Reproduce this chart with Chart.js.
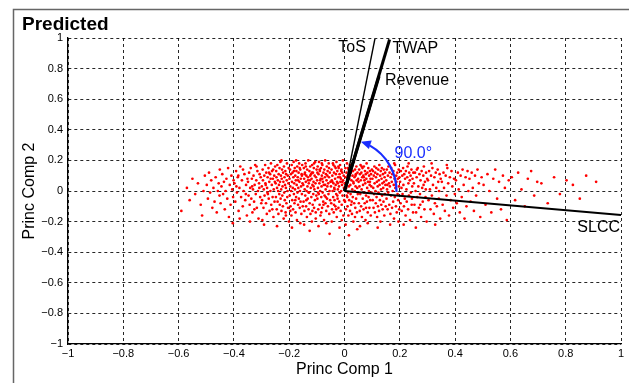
<!DOCTYPE html>
<html>
<head>
<meta charset="utf-8">
<script src="https://cdn.jsdelivr.net/npm/chart.js@4.4.1/dist/chart.umd.min.js"></script>
<style>
  html, body { margin: 0; padding: 0; background: #fff; }
  #wrap { width: 629px; height: 383px; position: relative; }
</style>
</head>
<body>
<div id="wrap"><canvas id="biplot"></canvas></div>
<script>
// Tick positions (same on both axes)
const xTicks = [-1, -0.8, -0.6, -0.4, -0.2, 0, 0.2, 0.4, 0.6, 0.8, 1];
const yTicks = [-1, -0.8, -0.6, -0.4, -0.2, 0, 0.2, 0.4, 0.6, 0.8, 1];

// Variable loadings (vectors)
const varNames = ['ToS', 'TWAP', 'Revenue', 'SLCC'];
const loadX = [0.11, 0.163, 0.125, 1.0];
const loadY = [0.995, 0.99, 0.75, -0.157];
const angleText = '90.0°';

// Scores
const scores = [
  [-0.59,-0.13],[-0.57,0.02],[-0.56,-0.06],[-0.55,0.08],[-0.54,-0.02],[-0.53,0.05],[-0.52,-0.09],[-0.51,0.0],[-0.505,0.1],[-0.515,-0.16],
  [-0.498,0.04],[-0.494,-0.05],[-0.49,0.12],[-0.486,-0.01],[-0.482,0.07],[-0.478,-0.11],[-0.474,0.02],[-0.47,-0.07],[-0.466,0.09],[-0.462,-0.14],[-0.458,0.0],[-0.455,0.05],[-0.452,-0.03],[-0.451,0.14],
  [-0.448,-0.08],[-0.445,0.03],[-0.442,0.11],[-0.439,-0.02],[-0.436,0.06],[-0.433,-0.12],[-0.43,0.0],[-0.427,0.08],[-0.424,-0.05],[-0.421,0.15],[-0.418,-0.17],[-0.415,0.04],[-0.412,-0.09],[-0.409,0.1],[-0.406,0.01],[-0.403,-0.04],[-0.401,0.07],[-0.404,-0.21],
  [-0.398,0.05],[-0.395,-0.07],[-0.392,0.13],[-0.389,-0.01],[-0.386,0.09],[-0.383,-0.13],[-0.38,0.02],[-0.377,0.16],[-0.374,-0.04],[-0.371,0.07],[-0.368,-0.1],[-0.365,0.0],[-0.362,0.11],[-0.359,-0.06],[-0.356,0.04],[-0.353,-0.16],[-0.351,0.08],[-0.367,0.14],[-0.379,-0.18],[-0.391,0.03],[-0.357,-0.02],[-0.384,0.1],
  [-0.349,0.06],[-0.347,-0.03],[-0.345,0.12],[-0.343,-0.09],[-0.341,0.02],[-0.339,0.15],[-0.337,-0.05],[-0.335,0.08],[-0.333,-0.14],[-0.331,0.01],[-0.329,0.1],[-0.327,-0.07],[-0.325,0.04],[-0.323,0.17],[-0.321,-0.02],[-0.319,0.07],[-0.317,-0.11],[-0.315,0.13],[-0.313,0.0],[-0.311,-0.18],[-0.309,0.05],[-0.307,0.11],[-0.305,-0.04],[-0.303,0.09],[-0.301,-0.08],[-0.334,0.03],[-0.318,0.16],[-0.326,-0.12],[-0.308,0.02],[-0.342,-0.2],
  [-0.299,0.03],[-0.298,-0.06],[-0.296,0.14],[-0.295,0.07],[-0.293,-0.11],[-0.292,0.01],[-0.29,0.1],[-0.289,-0.03],[-0.287,0.17],[-0.286,0.05],[-0.284,-0.08],[-0.283,0.12],[-0.281,-0.15],[-0.28,0.02],[-0.278,0.09],[-0.277,-0.02],[-0.275,0.15],[-0.274,-0.05],[-0.272,0.06],[-0.271,-0.13],[-0.269,0.11],[-0.268,0.0],[-0.266,0.18],[-0.265,-0.09],[-0.263,0.04],[-0.262,0.13],[-0.26,-0.04],[-0.259,0.08],[-0.257,-0.17],[-0.256,0.01],[-0.254,0.1],[-0.253,-0.07],[-0.251,0.16],[-0.297,-0.19],[-0.285,0.04],[-0.273,0.12],[-0.261,-0.12],[-0.252,0.06],[-0.279,-0.01],[-0.267,0.08],[-0.291,-0.22],[-0.258,0.14],
  [-0.249,0.05],[-0.248,-0.04],[-0.247,0.13],[-0.246,0.09],[-0.245,-0.12],[-0.244,0.02],[-0.243,0.17],[-0.242,-0.07],[-0.241,0.07],[-0.24,0.0],[-0.239,-0.15],[-0.238,0.11],[-0.237,0.04],[-0.236,-0.02],[-0.235,0.15],[-0.234,-0.09],[-0.233,0.06],[-0.232,0.19],[-0.231,-0.05],[-0.23,0.1],[-0.229,0.01],[-0.228,-0.13],[-0.227,0.08],[-0.226,0.14],[-0.225,-0.03],[-0.224,0.03],[-0.223,-0.1],[-0.222,0.12],[-0.221,0.06],[-0.22,-0.18],[-0.219,0.16],[-0.218,-0.01],[-0.217,0.09],[-0.216,-0.06],[-0.215,0.04],[-0.214,0.13],[-0.213,-0.14],[-0.212,0.02],[-0.211,0.11],[-0.21,-0.08],[-0.209,0.07],[-0.208,0.18],[-0.207,-0.04],[-0.206,0.0],[-0.205,0.1],[-0.204,-0.11],[-0.203,0.05],[-0.202,0.15],[-0.201,-0.2],[-0.244,-0.23],[-0.228,0.2],[-0.212,-0.16],
  [-0.199,0.08],[-0.198,-0.03],[-0.197,0.14],[-0.196,0.03],[-0.195,-0.1],[-0.194,0.11],[-0.193,0.0],[-0.192,-0.16],[-0.191,0.17],[-0.19,0.06],[-0.189,-0.06],[-0.188,0.12],[-0.187,0.02],[-0.186,-0.12],[-0.185,0.09],[-0.184,0.19],[-0.183,-0.02],[-0.182,0.05],[-0.181,-0.08],[-0.18,0.15],[-0.179,0.01],[-0.178,0.1],[-0.177,-0.14],[-0.176,0.07],[-0.175,-0.04],[-0.174,0.13],[-0.173,0.04],[-0.172,-0.19],[-0.171,0.16],[-0.17,-0.01],[-0.169,0.09],[-0.168,-0.09],[-0.167,0.02],[-0.166,0.12],[-0.165,-0.05],[-0.164,0.18],[-0.163,0.06],[-0.162,-0.11],[-0.161,0.0],[-0.16,0.14],[-0.159,-0.07],[-0.158,0.08],[-0.157,0.03],[-0.156,-0.15],[-0.155,0.11],[-0.154,-0.02],[-0.153,0.17],[-0.152,0.05],[-0.151,-0.1],[-0.19,-0.24],[-0.175,0.2],[-0.16,-0.21],[-0.183,0.13],[-0.168,0.07],[-0.196,-0.13],[-0.154,0.1],[-0.178,-0.06],[-0.162,0.15],
  [-0.149,0.04],[-0.148,-0.07],[-0.147,0.15],[-0.146,0.08],[-0.145,-0.13],[-0.144,0.01],[-0.143,0.12],[-0.142,-0.03],[-0.141,0.18],[-0.14,0.06],[-0.139,-0.1],[-0.138,0.1],[-0.137,0.0],[-0.136,-0.17],[-0.135,0.14],[-0.134,0.03],[-0.133,-0.05],[-0.132,0.09],[-0.131,0.2],[-0.13,-0.12],[-0.129,0.05],[-0.128,-0.01],[-0.127,0.13],[-0.126,-0.08],[-0.125,0.07],[-0.124,0.16],[-0.123,-0.15],[-0.122,0.02],[-0.121,0.11],[-0.12,-0.04],[-0.119,0.08],[-0.118,-0.2],[-0.117,0.17],[-0.116,0.04],[-0.115,-0.09],[-0.114,0.12],[-0.113,-0.02],[-0.112,0.06],[-0.111,0.15],[-0.11,-0.11],[-0.109,0.01],[-0.108,0.1],[-0.107,-0.06],[-0.106,0.19],[-0.105,0.05],[-0.104,-0.14],[-0.103,0.09],[-0.102,-0.03],[-0.101,0.14],[-0.146,-0.22],[-0.132,0.07],[-0.118,0.12],[-0.104,-0.18],[-0.14,0.16],[-0.126,-0.26],[-0.112,0.03],[-0.138,-0.06],[-0.124,0.1],[-0.11,0.18],[-0.144,0.11],[-0.13,-0.01],[-0.116,-0.13],
  [-0.099,0.07],[-0.098,-0.05],[-0.097,0.16],[-0.096,0.02],[-0.095,-0.12],[-0.094,0.11],[-0.093,-0.02],[-0.092,0.19],[-0.091,0.05],[-0.09,-0.09],[-0.089,0.13],[-0.088,0.0],[-0.087,-0.16],[-0.086,0.08],[-0.085,0.15],[-0.084,-0.04],[-0.083,0.03],[-0.082,0.1],[-0.081,-0.11],[-0.08,0.17],[-0.079,-0.01],[-0.078,0.06],[-0.077,-0.07],[-0.076,0.12],[-0.075,0.04],[-0.074,-0.19],[-0.073,0.14],[-0.072,-0.03],[-0.071,0.09],[-0.07,0.2],[-0.069,-0.08],[-0.068,0.01],[-0.067,0.11],[-0.066,-0.13],[-0.065,0.07],[-0.064,0.16],[-0.063,-0.05],[-0.062,0.03],[-0.061,0.13],[-0.06,-0.1],[-0.059,0.05],[-0.058,-0.02],[-0.057,0.18],[-0.056,0.09],[-0.055,-0.15],[-0.054,0.0],[-0.053,0.12],[-0.052,-0.06],[-0.051,0.06],[-0.094,-0.23],[-0.08,0.08],[-0.066,-0.21],[-0.09,0.14],[-0.076,-0.09],[-0.062,0.1],[-0.098,0.12],[-0.084,-0.14],[-0.07,0.04],[-0.056,0.15],[-0.096,-0.01],[-0.082,0.18],[-0.068,-0.04],[-0.054,-0.28],[-0.088,0.07],
  [-0.049,0.03],[-0.048,-0.08],[-0.047,0.14],[-0.046,0.07],[-0.045,-0.12],[-0.044,0.1],[-0.043,0.0],[-0.042,0.18],[-0.041,-0.04],[-0.04,0.05],[-0.039,-0.14],[-0.038,0.12],[-0.037,0.02],[-0.036,-0.06],[-0.035,0.16],[-0.034,0.08],[-0.033,-0.1],[-0.032,0.04],[-0.031,0.11],[-0.03,-0.02],[-0.029,0.19],[-0.028,-0.17],[-0.027,0.06],[-0.026,0.13],[-0.025,-0.05],[-0.024,0.01],[-0.023,0.09],[-0.022,-0.11],[-0.021,0.15],[-0.02,0.03],[-0.019,-0.07],[-0.018,0.11],[-0.017,-0.01],[-0.016,0.17],[-0.015,0.06],[-0.014,-0.13],[-0.013,0.08],[-0.012,0.0],[-0.011,0.14],[-0.01,-0.09],[-0.009,0.04],[-0.008,0.12],[-0.007,-0.03],[-0.006,0.2],[-0.005,0.07],[-0.004,-0.16],[-0.003,0.1],[-0.002,0.02],[-0.001,-0.06],[-0.046,-0.2],[-0.032,0.15],[-0.018,-0.24],[-0.044,0.06],[-0.03,-0.12],[-0.016,0.09],[-0.04,0.17],[-0.026,-0.03],[-0.012,0.13],[-0.038,-0.09],[-0.024,0.05],[-0.01,-0.19],[-0.036,0.01],[-0.022,0.16],[-0.008,0.06],
  [0.001,0.05],[0.002,-0.07],[0.003,0.15],[0.004,0.09],[0.005,-0.12],[0.006,0.02],[0.007,0.12],[0.008,-0.03],[0.009,0.18],[0.01,0.06],[0.011,-0.1],[0.012,0.1],[0.013,-0.01],[0.014,-0.16],[0.015,0.14],[0.016,0.03],[0.017,-0.06],[0.018,0.08],[0.019,0.17],[0.02,-0.13],[0.021,0.04],[0.022,-0.02],[0.023,0.12],[0.024,-0.09],[0.025,0.07],[0.026,0.16],[0.027,-0.15],[0.028,0.01],[0.029,0.1],[0.03,-0.04],[0.031,0.13],[0.032,-0.2],[0.033,0.05],[0.034,0.19],[0.035,-0.08],[0.036,0.09],[0.037,0.0],[0.038,0.14],[0.039,-0.11],[0.04,0.03],[0.041,0.11],[0.042,-0.05],[0.043,0.16],[0.044,0.07],[0.045,-0.14],[0.046,0.02],[0.047,0.12],[0.048,-0.02],[0.049,0.08],[0.004,-0.22],[0.018,0.13],[0.032,0.06],[0.046,-0.25],[0.01,-0.04],[0.024,0.17],[0.038,-0.17],[0.012,0.15],[0.026,-0.07],[0.04,0.1],[0.016,-0.29],
  [0.051,0.06],[0.052,-0.08],[0.053,0.14],[0.054,0.03],[0.055,-0.13],[0.056,0.11],[0.057,-0.02],[0.058,0.17],[0.059,0.07],[0.06,-0.1],[0.061,0.12],[0.062,0.01],[0.063,-0.17],[0.064,0.09],[0.065,0.15],[0.066,-0.05],[0.067,0.04],[0.068,0.1],[0.069,-0.12],[0.07,0.16],[0.071,-0.01],[0.072,0.07],[0.073,-0.08],[0.074,0.13],[0.075,0.05],[0.076,-0.19],[0.077,0.11],[0.078,-0.03],[0.079,0.08],[0.08,0.18],[0.081,-0.07],[0.082,0.02],[0.083,0.12],[0.084,-0.14],[0.085,0.06],[0.086,0.15],[0.087,-0.04],[0.088,0.0],[0.089,0.1],[0.09,-0.11],[0.091,0.04],[0.092,0.13],[0.093,-0.06],[0.094,0.08],[0.095,-0.16],[0.096,0.11],[0.097,0.03],[0.098,-0.01],[0.099,0.14],[0.056,-0.23],[0.07,0.09],[0.084,-0.21],[0.062,0.16],[0.078,-0.11],[0.092,0.06],
  [0.101,0.08],[0.102,-0.06],[0.103,0.13],[0.104,0.02],[0.105,-0.11],[0.106,0.1],[0.107,-0.02],[0.108,0.16],[0.109,0.05],[0.11,-0.14],[0.111,0.12],[0.112,0.0],[0.113,-0.08],[0.114,0.09],[0.115,0.15],[0.116,-0.04],[0.117,0.06],[0.118,-0.17],[0.119,0.11],[0.12,0.03],[0.121,-0.1],[0.122,0.14],[0.123,-0.01],[0.124,0.07],[0.125,-0.13],[0.126,0.17],[0.127,0.04],[0.128,-0.06],[0.129,0.1],[0.13,-0.2],[0.131,0.13],[0.132,0.01],[0.133,-0.09],[0.134,0.08],[0.135,0.15],[0.136,-0.03],[0.137,0.05],[0.138,-0.12],[0.139,0.11],[0.14,0.02],[0.141,-0.07],[0.142,0.14],[0.143,0.06],[0.144,-0.16],[0.145,0.09],[0.146,-0.02],[0.147,0.12],[0.148,0.04],[0.149,-0.1],[0.12,-0.24],
  [0.151,0.07],[0.152,-0.05],[0.153,0.14],[0.154,0.01],[0.156,-0.12],[0.157,0.1],[0.158,-0.01],[0.159,0.16],[0.161,0.05],[0.162,-0.09],[0.163,0.12],[0.164,0.03],[0.166,-0.15],[0.167,0.09],[0.168,-0.03],[0.169,0.15],[0.171,0.06],[0.172,-0.11],[0.173,0.11],[0.174,0.0],[0.176,-0.07],[0.177,0.13],[0.178,0.04],[0.179,-0.18],[0.181,0.08],[0.182,-0.04],[0.183,0.17],[0.184,0.02],[0.186,-0.1],[0.187,0.1],[0.188,0.06],[0.189,-0.14],[0.191,0.12],[0.192,-0.02],[0.193,0.08],[0.194,-0.06],[0.196,0.14],[0.197,0.03],[0.198,-0.12],[0.199,0.09],[0.165,-0.22],[0.18,0.18],[0.195,-0.2],[0.155,0.04],
  [0.201,0.06],[0.203,-0.08],[0.204,0.13],[0.206,0.02],[0.207,-0.13],[0.209,0.1],[0.21,-0.02],[0.212,0.15],[0.213,0.04],[0.215,-0.1],[0.216,0.11],[0.218,-0.05],[0.219,0.08],[0.221,-0.16],[0.222,0.13],[0.224,0.01],[0.225,-0.07],[0.227,0.09],[0.228,0.16],[0.23,-0.12],[0.231,0.05],[0.233,-0.03],[0.234,0.12],[0.236,0.07],[0.237,-0.19],[0.239,0.1],[0.24,-0.01],[0.242,0.14],[0.243,-0.09],[0.245,0.03],[0.246,0.08],[0.248,-0.14],[0.249,0.12],[0.214,-0.22],[0.232,0.18],[0.244,-0.05],
  [0.251,0.05],[0.253,-0.09],[0.255,0.12],[0.257,0.0],[0.259,-0.14],[0.261,0.09],[0.263,-0.04],[0.265,0.15],[0.267,0.03],[0.269,-0.11],[0.271,0.11],[0.273,-0.02],[0.275,0.07],[0.277,-0.17],[0.279,0.13],[0.281,0.02],[0.283,-0.07],[0.285,0.1],[0.287,0.16],[0.289,-0.12],[0.291,0.06],[0.293,-0.04],[0.295,0.12],[0.297,-0.2],[0.299,0.08],[0.262,0.14],[0.274,-0.09],[0.286,0.04],[0.258,-0.24],[0.294,0.01],
  [0.302,0.07],[0.304,-0.06],[0.306,0.13],[0.309,0.01],[0.311,-0.12],[0.313,0.1],[0.316,-0.03],[0.318,0.15],[0.32,0.04],[0.323,-0.15],[0.325,0.09],[0.327,-0.08],[0.33,0.12],[0.332,0.02],[0.334,-0.1],[0.337,0.14],[0.339,0.06],[0.341,-0.05],[0.344,0.11],[0.346,-0.18],[0.348,0.08],[0.315,0.18],[0.328,-0.22],[0.342,0.0],
  [0.352,0.06],[0.355,-0.09],[0.358,0.12],[0.36,0.02],[0.363,-0.13],[0.366,0.1],[0.369,-0.03],[0.372,0.15],[0.375,0.05],[0.378,-0.16],[0.381,0.09],[0.384,-0.06],[0.387,0.13],[0.39,0.03],[0.393,-0.11],[0.396,0.08],[0.399,-0.02],[0.37,0.17],
  [0.403,0.07],[0.406,-0.08],[0.41,0.12],[0.413,0.01],[0.417,-0.14],[0.42,0.1],[0.424,-0.04],[0.427,0.14],[0.431,0.04],[0.434,-0.18],[0.438,0.09],[0.441,-0.1],[0.445,0.13],[0.448,0.0],
  [0.452,0.08],[0.456,-0.07],[0.46,0.12],[0.464,0.02],[0.468,-0.13],[0.472,0.1],[0.476,-0.03],[0.481,0.14],[0.486,0.05],[0.491,-0.17],[0.496,0.09],
  [0.503,0.04],[0.51,-0.09],[0.517,0.11],[0.524,0.0],[0.531,-0.14],[0.538,0.08],[0.545,0.14],[0.552,-0.05],[0.559,0.06],[0.566,-0.12],[0.573,0.1],[0.58,0.02],[0.587,-0.19],[0.594,0.07],
  [0.605,0.09],[0.617,-0.06],[0.628,0.12],[0.64,0.01],[0.652,-0.1],[0.663,0.08],[0.675,0.13],[0.686,-0.03],[0.697,0.06],
  [0.712,0.05],[0.735,-0.08],[0.758,0.09],[0.779,-0.02],[0.803,0.07],[0.826,0.04],[0.851,-0.05],[0.874,0.1],[0.91,0.06]
];

const FONT = "'Liberation Sans', Arial, Helvetica, sans-serif";

// Stile dei vettori e posizione delle etichette (pixel, rispetto alla punta)
const vecWidth = { ToS: 1.4, TWAP: 3, Revenue: 3, SLCC: 2 };
const vecLabel = {
    ToS:     { dx: -9, dy: 9,  align: 'right' },
    TWAP:    { dx: 3,  dy: 9,  align: 'left' },
    Revenue: { dx: 6,  dy: 4,  align: 'left' },
    SLCC:    { dx: -1, dy: 13, align: 'right' }
};

const fmtTick = v => {
    const r = Math.round(v * 10) / 10;
    return r < 0 ? '\u2212' + String(-r) : String(r);
};

const vectorSets = varNames.map((name, i) => ({
    label: name,
    data: [{ x: 0, y: 0 }, { x: loadX[i], y: loadY[i] }],
    showLine: true,
    borderColor: '#000',
    borderWidth: vecWidth[name],
    pointRadius: 0,
    fill: false,
    order: 1
}));

const biplotDecor = {
    id: 'biplotDecor',
    beforeDraw(chart) {
        const ctx = chart.ctx;
        ctx.save();
        ctx.fillStyle = '#fff';
        ctx.fillRect(0, 0, chart.width, chart.height);
        // cornice della figura
        ctx.strokeStyle = '#666';
        ctx.lineWidth = 1.5;
        ctx.beginPath();
        ctx.moveTo(13.5, chart.height);
        ctx.lineTo(13.5, 9.5);
        ctx.lineTo(chart.width, 9.5);
        ctx.stroke();
        // titolo
        ctx.fillStyle = '#000';
        ctx.font = 'bold 19px ' + FONT;
        ctx.textBaseline = 'alphabetic';
        ctx.fillText('Predicted', 22, 29.5);
        ctx.restore();
    },
    afterDatasetsDraw(chart) {
        const { ctx, scales: { x, y } } = chart;
        const ox = x.getPixelForValue(0), oy = y.getPixelForValue(0);
        ctx.save();
        // etichette dei vettori
        ctx.fillStyle = '#000';
        ctx.font = '16px ' + FONT;
        ctx.textBaseline = 'middle';
        varNames.forEach((name, i) => {
            const o = vecLabel[name];
            ctx.textAlign = o.align;
            ctx.fillText(name, x.getPixelForValue(loadX[i]) + o.dx, y.getPixelForValue(loadY[i]) + o.dy);
        });
        // arco dell'angolo tra SLCC e TWAP
        const iS = varNames.indexOf('SLCC'), iT = varNames.indexOf('TWAP');
        const aS = Math.atan2(y.getPixelForValue(loadY[iS]) - oy, x.getPixelForValue(loadX[iS]) - ox);
        const aT = Math.atan2(y.getPixelForValue(loadY[iT]) - oy, x.getPixelForValue(loadX[iT]) - ox);
        const r = 52, head = 10, a0 = aS - 0.07, a1 = aT + 0.03;
        const blue = 'rgb(25,45,255)';
        ctx.strokeStyle = blue;
        ctx.fillStyle = blue;
        ctx.lineWidth = 2.2;
        ctx.beginPath();
        ctx.arc(ox, oy, r, a0, a1 + head / r, true);
        ctx.stroke();
        const tx = ox + r * Math.cos(a1), ty = oy + r * Math.sin(a1);
        const dx = Math.sin(a1), dy = -Math.cos(a1);
        const bx = tx - dx * head, by = ty - dy * head;
        ctx.beginPath();
        ctx.moveTo(tx, ty);
        ctx.lineTo(bx - dy * 4.5, by + dx * 4.5);
        ctx.lineTo(bx + dy * 4.5, by - dx * 4.5);
        ctx.closePath();
        ctx.fill();
        ctx.font = '16px ' + FONT;
        ctx.textAlign = 'left';
        ctx.fillText(angleText, ox + 50, oy - 37);
        ctx.restore();
    }
};

const axisCommon = (ticks, title) => ({
    type: 'linear',
    min: -1,
    max: 1,
    afterBuildTicks: s => { s.ticks = ticks.map(v => ({ value: v })); },
    ticks: {
        callback: fmtTick,
        color: '#000',
        font: { family: FONT, size: 11 },
        autoSkip: false,
        maxRotation: 0
    },
    grid: { color: 'rgba(0,0,0,0.85)', lineWidth: 1, drawTicks: false },
    border: { display: true, color: '#000', width: 1.3, dash: [3, 3] },
    title: { display: true, text: title, color: '#000', font: { family: FONT, size: 16 } }
});

const xAxis = axisCommon(xTicks, 'Princ Comp 1');
xAxis.ticks.padding = 3;
xAxis.title.padding = { top: 0, bottom: 4 };
xAxis.afterFit = s => { s.height = 39; };

const yAxis = axisCommon(yTicks, 'Princ Comp 2');
yAxis.ticks.padding = 5;
yAxis.title.padding = { top: 20, bottom: 0 };
yAxis.afterFit = s => { s.width = 68; };

new Chart(document.getElementById('biplot').getContext('2d'), {
    type: 'scatter',
    data: {
        datasets: [{
            label: 'scores',
            data: scores.map(p => ({ x: p[0], y: p[1] })),
            backgroundColor: '#ff0000',
            borderWidth: 0,
            pointRadius: 1.35,
            order: 2
        }].concat(vectorSets)
    },
    options: {
        responsive: true,
        maintainAspectRatio: false,
        animation: false,
        events: [],
        layout: { padding: { top: 38, right: 8, left: 0, bottom: 0 } },
        scales: { x: xAxis, y: yAxis },
        plugins: { legend: { display: false }, tooltip: { enabled: false } }
    },
    plugins: [biplotDecor]
});
</script>
</body>
</html>
